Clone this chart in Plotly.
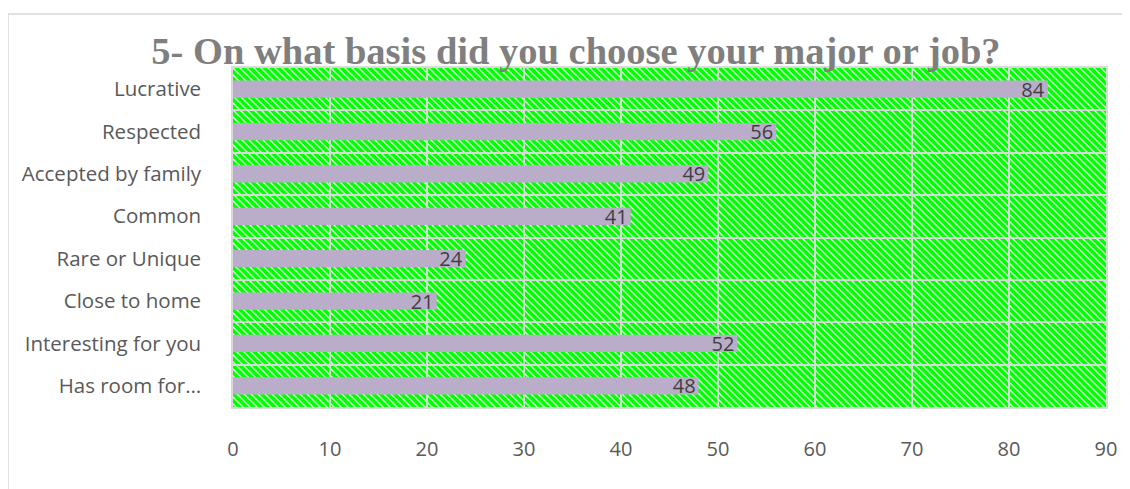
import base64
import plotly.graph_objects as go

# ---- data ----
categories = ["Lucrative", "Respected", "Accepted by family", "Common",
              "Rare or Unique", "Close to home", "Interesting for you", "Has room for…"]
values = [84, 56, 49, 41, 24, 21, 52, 48]
x_ticks = [0, 10, 20, 30, 40, 50, 60, 70, 80, 90]
title_text = "5- On what basis did you choose your major or job?"

# ---- styling ----
OFF = 8  # page body margin of the browser
W, H = 1130 - OFF, 489 - OFF
ML, MR, MT, MB = 233 - OFF, 24, 68 - OFF, 82
PW, PH = W - ML - MR, H - MT - MB

svg = f'''<svg xmlns="http://www.w3.org/2000/svg" width="{PW}" height="{PH}" viewBox="0 0 {PW} {PH}" preserveAspectRatio="none">
<defs><pattern id="p" patternUnits="userSpaceOnUse" width="7" height="7">
<rect width="7" height="7" fill="#00ff00"/>
<path d="M-1,-1 L8,8 M-8,-1 L1,8 M6,-1 L15,8" stroke="#c8ffc8" stroke-width="1.5"/>
</pattern></defs>
<rect width="{PW}" height="{PH}" fill="url(#p)"/></svg>'''
img_src = "data:image/svg+xml;base64," + base64.b64encode(svg.encode()).decode()

font_main = "Open Sans"

fig = go.Figure()
fig.add_trace(go.Bar(
    x=values, y=categories, orientation="h",
    marker=dict(color="#b9adca", line=dict(width=0)),
    width=0.41,
    text=[str(v) for v in values],
    textposition="inside", insidetextanchor="end", textangle=0,
    textfont=dict(family=font_main, size=20, color="#404040"),
    cliponaxis=False,
    hoverinfo="skip",
))

fig.update_layout(
    width=W, height=H,
    margin=dict(l=ML, r=MR, t=MT, b=MB),
    paper_bgcolor="white",
    plot_bgcolor="rgba(0,0,0,0)",
    showlegend=False,
    uniformtext=dict(minsize=20, mode="show"),
    title=dict(text=f"<b>{title_text}</b>", x=(576 - OFF) / W, xanchor="center",
               y=1 - (51 - OFF) / H, yanchor="middle",
               font=dict(family="Liberation Serif", size=38.5, color="#7f7f7f")),
    images=[dict(source=img_src, xref="paper", yref="paper", x=0, y=1,
                 sizex=1, sizey=1, xanchor="left", yanchor="top",
                 sizing="stretch", layer="below")],
    shapes=[dict(type="rect", xref="paper", yref="paper",
                 x0=(8 - 233) / PW, x1=1.3, y0=-0.5, y1=1 + (68 - 14) / PH,
                 line=dict(color="#d9d9d9", width=1.5), fillcolor="rgba(0,0,0,0)",
                 layer="below")],
    xaxis=dict(range=[0, 90], tickvals=x_ticks, ticktext=[str(t) for t in x_ticks],
               showgrid=True, gridcolor="#d9d9d9", gridwidth=1.5,
               zeroline=False, showline=True, linecolor="#d9d9d9", linewidth=1.5,
               mirror=True, ticks="", ticklabelstandoff=23,
               tickfont=dict(family=font_main, size=20, color="#595959")),
    yaxis=dict(type="category", categoryorder="array", categoryarray=categories,
               autorange="reversed", tickson="boundaries",
               showgrid=True, gridcolor="#d9d9d9", gridwidth=1.5,
               showline=True, linecolor="#d9d9d9", linewidth=1.5, mirror=True,
               ticks="", ticklabelstandoff=26,
               tickfont=dict(family=font_main, size=20.5, color="#595959")),
)

fig.write_html("out.html")
